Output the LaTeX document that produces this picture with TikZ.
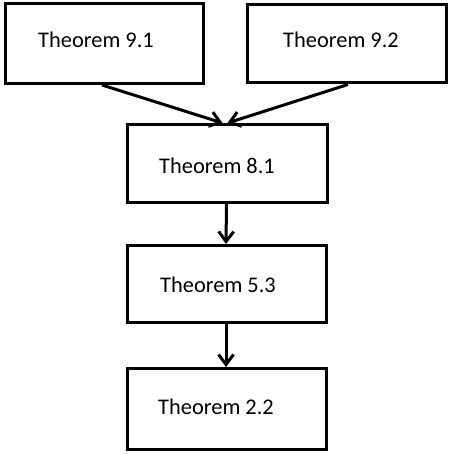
\documentclass[tikz,border=0pt]{standalone}
\usepackage{fontspec}
\setmainfont{Carlito}
\usetikzlibrary{arrows.meta}
\begin{document}
\begin{tikzpicture}[x=1pt,y=-1pt,
  thbox/.style={draw,line width=3pt,minimum width=198pt,inner sep=0pt},
  thtext/.style={font=\fontsize{22.4}{26}\selectfont,inner sep=0pt,anchor=center},
  conn/.style={line width=3pt,-{Straight Barb[length=10pt,width=15pt,line width=3pt]}}]
\useasboundingbox (0,0) rectangle (449,454);
\node[thbox,minimum height=80pt] (b91) at (104,43.5) {};
\node[thbox,minimum height=78pt,minimum width=199pt] (b92) at (347,44) {};
\node[thbox,minimum height=78pt,minimum width=200pt] (b81) at (227.5,163.5) {};
\node[thbox,minimum height=77pt,minimum width=199pt] (b53) at (227,284) {};
\node[thbox,minimum height=81pt,minimum width=199pt] (b22) at (227,409) {};
\node[thtext] (t91) at (96,40) {Theorem 9.1};
\node[thtext] (t92) at (341,40) {Theorem 9.2};
\node[thtext] (t81) at (217,166) {Theorem 8.1};
\node[thtext] (t53) at (218,285) {Theorem 5.3};
\node[thtext] (t22) at (216,407) {Theorem 2.2};
\draw[conn] ([xshift=-2pt]b91.south) -- ([xshift=-5pt]b81.north);
\draw[conn] ([xshift=1pt]b92.south) -- ([xshift=0pt]b81.north);
\draw[conn] ([xshift=-1pt]b81.south) -- ([xshift=-1pt]b53.north);
\draw[conn] ([xshift=-1pt]b53.south) -- ([xshift=-1pt]b22.north);
\end{tikzpicture}
\end{document}
